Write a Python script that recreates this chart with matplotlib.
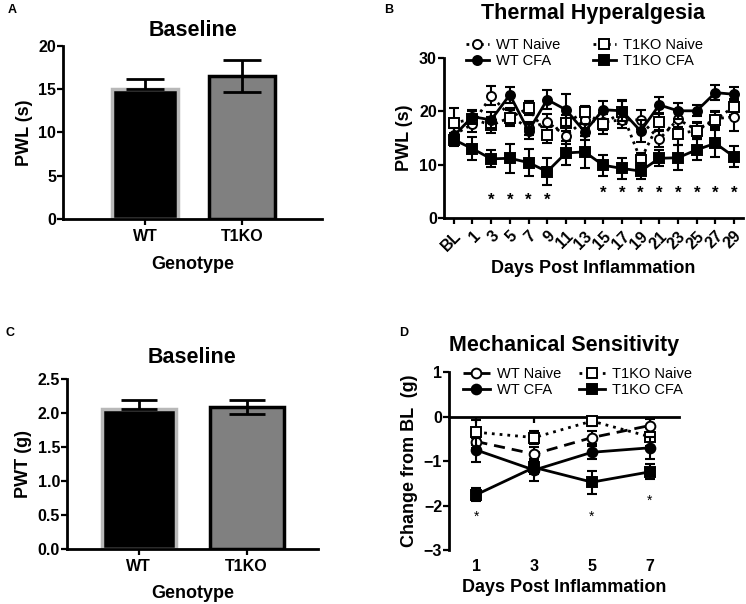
import matplotlib
matplotlib.use("Agg")
import matplotlib.pyplot as plt
import numpy as np

plt.rcParams['font.family'] = ['Liberation Sans', 'DejaVu Sans']

# ---------------- data ----------------
genotypes = ["WT", "T1KO"]
pwl_base = [15.0, 16.5]
pwl_base_err = [1.2, 1.8]
pwt_base = [2.06, 2.09]
pwt_base_err = [0.13, 0.10]

days_b = ["BL", "1", "3", "5", "7", "9", "11", "13", "15", "17", "19", "21", "23", "25", "27", "29"]
wt_naive_b = [15.6, 17.6, 22.9, 19.2, 16.8, 18.0, 15.4, 18.4, 18.0, 18.4, 18.4, 14.8, 18.5, 16.5, 18.6, 19.0]
wt_naive_b_err = [1.5, 1.4, 1.8, 1.5, 1.2, 1.5, 1.5, 1.5, 1.5, 1.6, 1.8, 1.5, 1.5, 1.5, 1.5, 2.6]
t1ko_naive_b = [17.8, 18.6, 17.4, 18.8, 20.6, 15.6, 17.9, 19.8, 17.7, 19.8, 10.9, 18.0, 15.8, 16.4, 18.4, 20.9]
t1ko_naive_b_err = [2.8, 1.5, 1.5, 1.5, 1.3, 1.5, 1.5, 1.2, 2.0, 2.2, 1.2, 1.5, 2.2, 1.5, 1.5, 1.5]
wt_cfa_b = [15.4, 19.0, 18.4, 23.1, 16.3, 22.2, 20.3, 16.2, 20.3, 20.1, 16.3, 21.2, 20.1, 20.1, 23.5, 23.2]
wt_cfa_b_err = [1.4, 1.2, 1.5, 1.5, 1.5, 1.8, 3.0, 1.5, 1.7, 2.0, 2.0, 1.5, 1.5, 1.0, 1.4, 1.3]
t1ko_cfa_b = [14.7, 13.0, 11.1, 11.2, 10.4, 8.7, 12.2, 12.4, 9.9, 9.3, 8.8, 11.2, 11.3, 12.8, 14.0, 11.5]
t1ko_cfa_b_err = [1.2, 2.2, 1.6, 2.7, 2.5, 2.5, 2.3, 3.0, 2.0, 2.0, 1.5, 1.5, 2.3, 2.0, 2.5, 2.0]
stars_b_days = ["3", "5", "7", "9", "15", "17", "19", "21", "23", "25", "27", "29"]
stars_b_y = [3.4, 3.4, 3.4, 3.4, 4.7, 4.7, 4.7, 4.7, 4.7, 4.7, 4.7, 4.7]

days_d = [1, 3, 5, 7]
wt_naive_d = [-0.56, -0.84, -0.47, -0.20]
wt_naive_d_err = [0.15, 0.15, 0.15, 0.15]
t1ko_naive_d = [-0.35, -0.47, -0.10, -0.45]
t1ko_naive_d_err = [0.28, 0.15, 0.10, 0.20]
wt_cfa_d = [-0.75, -1.20, -0.80, -0.70]
wt_cfa_d_err = [0.27, 0.25, 0.15, 0.25]
t1ko_cfa_d = [-1.75, -1.14, -1.47, -1.24]
t1ko_cfa_d_err = [0.15, 0.15, 0.26, 0.17]
stars_d_x = [1, 5, 7]
stars_d_y = [-2.25, -2.25, -1.88]

# ---------------- figure ----------------
fig = plt.figure(figsize=(7.46, 6.04), dpi=100)

TICK_FS = 11.5
LAB_FS = 13
TITLE_FS = 15.5


def style_axes(ax):
    for s in ["top", "right"]:
        ax.spines[s].set_visible(False)
    for s in ["left", "bottom"]:
        ax.spines[s].set_linewidth(2)
    ax.tick_params(width=1.6, length=4, labelsize=TICK_FS)
    ax.tick_params(axis="y", pad=1)
    for lab in ax.get_xticklabels() + ax.get_yticklabels():
        lab.set_fontweight("bold")


def bar_panel(ax, vals, errs, ylim, yticks, yfmt, ylabel, xlim, width, capsize):
    x = np.arange(len(vals))
    ax.bar(x[0], vals[0], width=width, color="black", edgecolor="#b8b8b8", linewidth=2.5, zorder=2)
    ax.bar(x[1], vals[1], width=width, color="#808080", edgecolor="black", linewidth=2.5, zorder=2)
    ax.errorbar(x[0], vals[0], yerr=[[0], [errs[0]]], fmt="none", ecolor="black",
                elinewidth=2, capsize=capsize, capthick=2, zorder=3)
    ax.errorbar(x[1], vals[1], yerr=errs[1], fmt="none", ecolor="black",
                elinewidth=2, capsize=capsize, capthick=2, zorder=3)
    ax.set_xlim(*xlim)
    ax.set_ylim(*ylim)
    ax.set_yticks(yticks)
    ax.set_yticklabels([yfmt.format(v) for v in yticks])
    ax.set_xticks(x)
    ax.set_xticklabels(genotypes)
    ax.set_ylabel(ylabel, fontsize=LAB_FS, fontweight="bold")
    ax.set_xlabel("Genotype", fontsize=LAB_FS, fontweight="bold", labelpad=8)
    style_axes(ax)


def line_series(ax, x, y, err, ls, marker, filled, label, ms, z):
    ax.errorbar(x, y, yerr=err, fmt="none", ecolor="black", elinewidth=1.5,
                capsize=3.5, capthick=1.5, zorder=z)
    ax.plot(x, y, color="black", linestyle=ls, lw=2, marker=marker, ms=ms,
            mfc="black" if filled else "white", mec="black", mew=1.4, label=label, zorder=z + 0.5)


# Panel A
axA = fig.add_axes([0.0845, 0.6374, 0.432 - 0.0845, 0.9243 - 0.6374])
bar_panel(axA, pwl_base, pwl_base_err, (0, 20), [0, 5, 10, 15, 20], "{:g}", "PWL (s)",
          (-0.845, 1.825), 0.68, 14)
axA.set_title("Baseline", fontsize=TITLE_FS, fontweight="bold", pad=7)

# Panel C
axC = fig.add_axes([0.0898, 0.0915, 0.426 - 0.0898, 0.372 - 0.0915])
bar_panel(axC, pwt_base, pwt_base_err, (0, 2.5), [0, 0.5, 1.0, 1.5, 2.0, 2.5], "{:.1f}", "PWT (g)",
          (-0.664, 1.66), 0.685, 13)
axC.set_title("Baseline", fontsize=TITLE_FS, fontweight="bold", pad=12)

# Panel B
axB = fig.add_axes([0.595, 0.639, 0.996 - 0.595, 0.904 - 0.639])
xb = np.arange(len(days_b))
dot = (0, (1, 1.6))
line_series(axB, xb, wt_naive_b, wt_naive_b_err, dot, "o", False, "WT Naive", 6.5, 3)
line_series(axB, xb, wt_cfa_b, wt_cfa_b_err, "-", "o", True, "WT CFA", 6.5, 4)
line_series(axB, xb, t1ko_naive_b, t1ko_naive_b_err, dot, "s", False, "T1KO Naive", 6.5, 3)
line_series(axB, xb, t1ko_cfa_b, t1ko_cfa_b_err, "-", "s", True, "T1KO CFA", 6.5, 4)
for d, yv in zip(stars_b_days, stars_b_y):
    axB.text(days_b.index(d), yv, "*", ha="center", va="center", fontsize=12, fontweight="bold")
axB.set_xlim(-0.53, 15.48)
axB.set_ylim(0, 30)
axB.set_yticks([0, 10, 20, 30])
axB.set_xticks(xb)
axB.set_xticklabels(days_b, rotation=45, ha="right", rotation_mode="anchor")
axB.set_ylabel("PWL (s)", fontsize=LAB_FS, fontweight="bold")
axB.set_xlabel("Days Post Inflammation", fontsize=LAB_FS, fontweight="bold", labelpad=4)
axB.set_title("Thermal Hyperalgesia", fontsize=TITLE_FS, fontweight="bold", pad=28)
style_axes(axB)
axB.legend(loc="upper center", bbox_to_anchor=(0.47, 1.16), ncol=2, frameon=False,
           fontsize=10.5, handlelength=1.6, handletextpad=0.5, columnspacing=2.2,
           labelspacing=0.15, borderaxespad=0)

# Panel D
axD = fig.add_axes([0.602, 0.0889, 0.910 - 0.602, 0.384 - 0.0889])
line_series(axD, days_d, wt_naive_d, wt_naive_d_err, (0, (4, 2.5)), "o", False, "WT Naive", 7, 3)
line_series(axD, days_d, wt_cfa_d, wt_cfa_d_err, "-", "o", True, "WT CFA", 7, 4)
line_series(axD, days_d, t1ko_naive_d, t1ko_naive_d_err, (0, (1, 1.8)), "s", False, "T1KO Naive", 7, 3)
line_series(axD, days_d, t1ko_cfa_d, t1ko_cfa_d_err, "-", "s", True, "T1KO CFA", 7, 4)
for xv, yv in zip(stars_d_x, stars_d_y):
    axD.text(xv, yv, "*", ha="center", va="center", fontsize=10)
axD.set_xlim(0.055, 8.01)
axD.set_ylim(-3, 1)
axD.set_yticks([1, 0, -1, -2, -3])
axD.spines["bottom"].set_position(("data", 0))
axD.set_xticks(days_d)
axD.tick_params(axis="x", labelbottom=False)
secD = axD.secondary_xaxis("bottom")
secD.spines["bottom"].set_visible(False)
secD.set_xticks(days_d)
secD.tick_params(length=0, labelsize=TICK_FS, pad=6)
for lab in secD.get_xticklabels():
    lab.set_fontweight("bold")
secD.set_xlabel("Days Post Inflammation", fontsize=LAB_FS, fontweight="bold", labelpad=4)
axD.set_ylabel("Change from BL  (g)", fontsize=LAB_FS, fontweight="bold")
axD.set_title("Mechanical Sensitivity", fontsize=TITLE_FS, fontweight="bold", pad=15)
style_axes(axD)
axD.legend(loc="upper center", bbox_to_anchor=(0.56, 1.06), ncol=2, frameon=False,
           fontsize=10.5, handlelength=1.8, handletextpad=0.5, columnspacing=1.2,
           labelspacing=0.15, borderaxespad=0)

# panel letters
for lab, (x, y) in zip("ABCD", [(0.010, 0.983), (0.515, 0.983), (0.008, 0.449), (0.535, 0.449)]):
    fig.text(x, y, lab, fontsize=9, fontweight="bold", ha="left", va="center")

fig.savefig("out.png", dpi=100)
